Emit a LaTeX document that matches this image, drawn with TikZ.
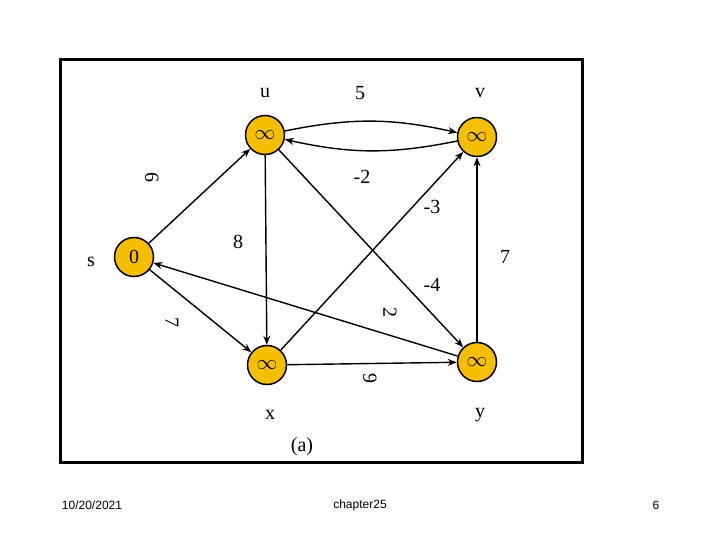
\documentclass[tikz,border=0pt]{standalone}
\usepackage{fontspec}
\setmainfont{Liberation Serif}
\newfontfamily\footfont{Liberation Sans}
\usetikzlibrary{arrows.meta}
\definecolor{gold}{HTML}{F5BE00}
\tikzset{
  vert/.style={circle,draw=black,line width=1.5pt,fill=gold,minimum size=39pt,inner sep=0pt,font=\fontsize{20}{22}\selectfont},
  lbl/.style={font=\fontsize{20}{22}\selectfont,inner sep=0pt},
  edge/.style={line width=1.4pt,-{Stealth[length=9pt,width=7pt]}},
  foot/.style={font=\footfont\fontsize{12}{14}\selectfont,inner sep=0pt}
}
\begin{document}
\begin{tikzpicture}[x=1pt,y=-1pt]
\useasboundingbox (0,0) rectangle (720,540);
\draw[line width=3pt] (60,60) rectangle (582,462);
\node[vert] (s) at (134,257) {0};
\node[vert] (u) at (265,135) {$\infty$};
\node[vert] (v) at (477,137) {$\infty$};
\node[vert] (x) at (267,365) {$\infty$};
\node[vert] (y) at (477,362) {$\infty$};
\draw[edge] (s) -- (u);
\draw[edge] (s) -- (x);
\draw[edge] (u) -- (x);
\draw[edge] (u) to[bend left=12] (v);
\draw[edge] (v) to[bend left=12] (u);
\draw[edge] (u) -- (y);
\draw[edge] (x) -- (v);
\draw[edge] (x) -- (y);
\draw[edge] (y) -- (v);
\draw[edge] (y) -- (s);
\node[lbl] (lu) at (265,93) {u};
\node[lbl] (l5) at (360,93) {5};
\node[lbl] (lv) at (480,93) {v};
\node[lbl,rotate=-90] (l6) at (152,178) {6};
\node[lbl] (lm2) at (362,177) {-2};
\node[lbl] (lm3) at (432,207) {-3};
\node[lbl] (l8) at (238,242) {8};
\node[lbl] (l7a) at (505,257) {7};
\node[lbl] (ls) at (91,262) {s};
\node[lbl] (lm4) at (432,285) {-4};
\node[lbl,rotate=-90] (l2) at (390,312) {2};
\node[lbl,rotate=-90] (l7b) at (172,322) {7};
\node[lbl,rotate=-90] (l9) at (370,378) {9};
\node[lbl] (lx) at (270,415) {x};
\node[lbl] (ly) at (480,415) {y};
\node[lbl] (la) at (302,447) {(a)};
\node[foot] (f1) at (92,505) {10/20/2021};
\node[foot] (f2) at (360,505) {chapter25};
\node[foot] (f3) at (656,505) {6};
\end{tikzpicture}
\end{document}
